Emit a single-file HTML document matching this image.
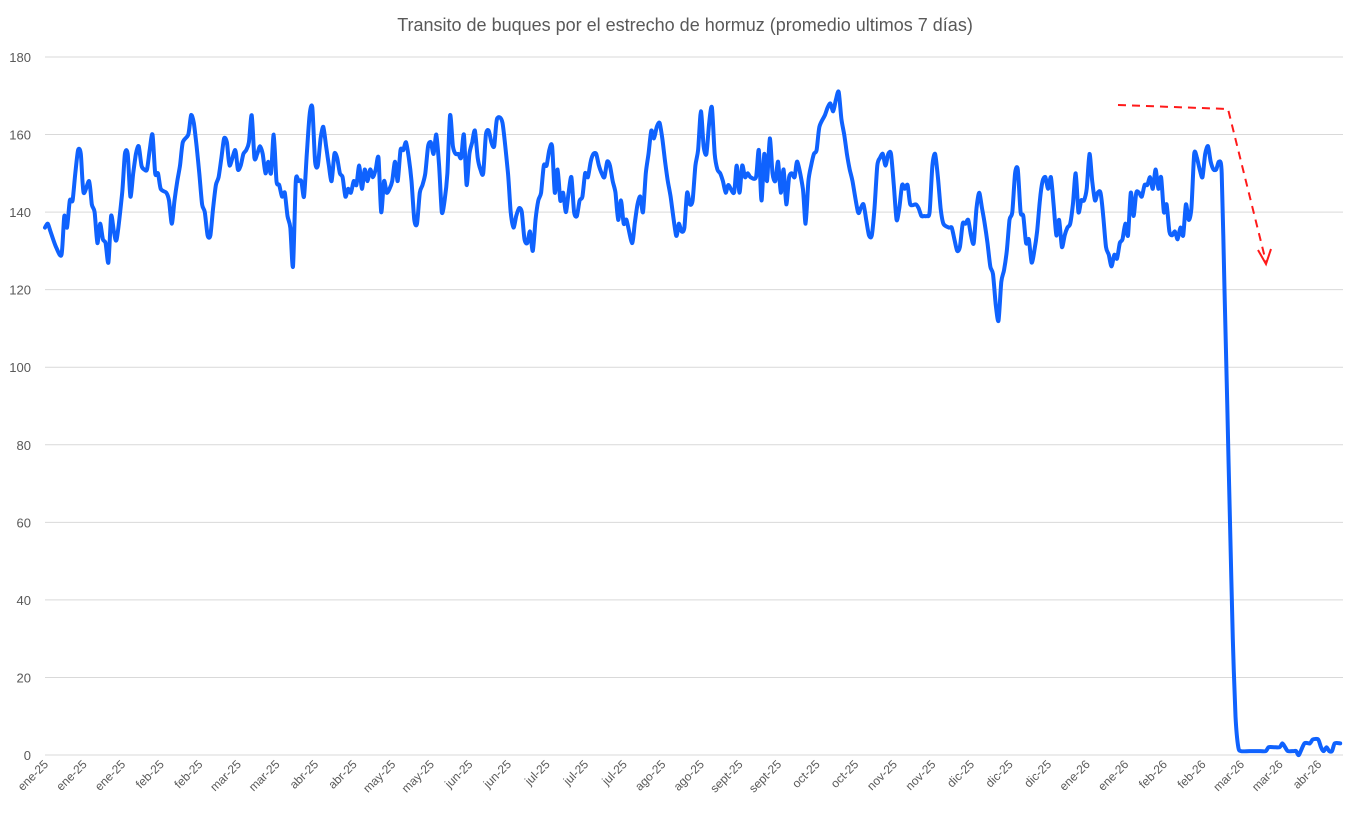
<!DOCTYPE html>
<html><head><meta charset="utf-8"><style>
html,body{margin:0;padding:0;background:#fff;}
svg{display:block;font-family:"Liberation Sans",sans-serif;}
</style></head><body>
<svg id="chart" width="1371" height="815" viewBox="0 0 1371 815">
<text x="685" y="31" text-anchor="middle" font-size="18" fill="#595959">Transito de buques por el estrecho de hormuz (promedio ultimos 7 días)</text>
<g id="grid"></g><g id="yticks"></g><g id="xticks"></g><g id="series"></g>
<g>
<polyline points="1118,105 1228,109 1266,262" fill="none" stroke="#ff1a1a" stroke-width="2" stroke-dasharray="8,6"/>
<polyline points="1258,250 1266,264 1271,249" fill="none" stroke="#ff1a1a" stroke-width="2"/>
</g>
</svg>
<script>
const yTicks=[0,20,40,60,80,100,120,140,160,180];
const xLabels=["ene-25","ene-25","ene-25","feb-25","feb-25","mar-25","mar-25","abr-25","abr-25","may-25","may-25","jun-25","jun-25","jul-25","jul-25","jul-25","ago-25","ago-25","sept-25","sept-25","oct-25","oct-25","nov-25","nov-25","dic-25","dic-25","dic-25","ene-26","ene-26","feb-26","feb-26","mar-26","mar-26","abr-26"];
const labelStepDays=14;
const days=[0,1,2,4,6,7,8,9,10,11,12,13,14,16,17,18,19,20,21,22,23,24,25,26,28,29,30,31,32,33,34,35,36,37,38,39,40,41,42,44,45,46,47,48,49,50,52,53,54,55,56,57,58,59,60,61,62,63,64,65,66,67,69,70,71,72,73,74,75,76,77,78,79,80,81,82,83,84,85,86,87,88,89,90,91,92,93,94,95,96,97,98,99,100,101,102,103,104,105,106,107,108,109,110,111,112,113,114,115,116,117,118,119,120,121,122,123,124,125,126,127,128,129,130,131,132,133,134,135,136,137,138,139,140,141,142,143,144,145,146,147,148,149,150,151,152,153,154,155,156,157,158,159,160,161,162,163,164,166,168,169,170,171,172,173,174,175,176,177,178,179,180,181,182,183,184,185,186,187,188,189,190,191,192,193,194,195,196,197,198,199,200,201,202,203,204,205,206,207,208,209,210,211,213,214,215,216,217,218,219,220,221,222,223,224,225,226,227,229,230,231,232,233,234,235,236,237,238,239,240,241,242,243,244,245,246,247,248,250,251,252,253,254,255,256,258,259,260,261,262,263,264,265,266,267,268,269,270,271,272,273,275,276,277,278,279,280,281,283,284,285,286,287,288,289,290,291,292,293,295,296,297,298,299,300,301,302,303,304,305,306,307,308,309,310,311,312,313,314,316,317,318,319,320,321,322,323,324,325,326,328,329,330,331,332,333,334,335,336,337,338,339,340,341,342,343,344,345,346,347,348,349,350,351,352,353,354,355,356,357,358,359,360,361,362,363,364,365,366,367,368,369,370,371,372,373,374,375,376,377,378,379,380,381,382,383,384,385,386,387,388,389,390,391,392,393,394,395,396,397,398,399,400,401,402,403,404,405,406,407,408,409,410,411,412,413,414,415,416,417,418,419,420,421,422,423,424,425,426,427,428,429,430,431,432,433,434,437,441,443,444,446,448,449,450,451,453,454,455,457,459,460,462,463,464,465,466,467,468,470];
const ships=[136,137,135,131,129,139,136,143,143,150,156,155,145,148,142,140,132,137,133,132,127,139,135,133,145,155,155,144,150,155,157,152,151,151,156,160,150,150,146,145,143,137,143,148,152,158,160,165,163,157,150,142,140,134,134,141,147,149,154,159,158,152,156,151,152,155,156,158,165,154,155,157,155,150,153,150,160,148,147,144,145,139,136,126,148,148,148,144,155,165,167,153,152,159,162,157,152,148,155,154,150,149,144,146,145,148,147,152,146,151,148,151,149,151,154,140,148,145,146,148,153,148,156,156,158,154,148,138,137,145,147,150,157,158,155,160,152,140,143,150,165,157,155,155,154,160,147,155,158,161,154,151,150,160,161,158,157,164,163,150,140,136,139,141,140,133,132,135,130,138,143,145,152,152,156,157,145,151,143,145,140,145,149,140,139,143,144,150,149,153,155,155,152,150,149,153,152,148,145,138,143,137,138,132,137,142,144,140,150,155,161,159,162,163,159,153,148,144,134,137,135,136,145,142,143,152,156,166,157,155,163,167,155,151,150,148,145,147,145,152,145,152,149,150,149,149,156,143,155,148,159,150,148,153,145,151,142,149,150,149,153,146,137,148,152,155,156,162,165,167,168,166,169,171,164,160,155,151,148,140,141,142,138,134,134,141,152,154,155,152,155,155,147,138,141,147,146,147,142,142,141,139,139,139,140,152,155,149,141,137,136,136,133,130,131,137,137,138,134,132,141,145,141,137,132,126,124,116,112,122,125,130,138,140,150,151,140,139,132,133,127,130,135,143,148,149,146,149,142,134,138,131,134,136,137,142,150,140,143,143,146,155,148,143,145,145,139,131,129,126,129,128,132,133,137,134,145,139,145,145,144,147,147,149,146,151,146,149,140,142,135,134,135,133,136,134,142,138,141,155,154,151,149,155,157,153,151,151,153,150,120,90,60,30,10,2,1,1,1,1,2,2,2,3,2,1,1,1,0,3,3,4,4,2,1,2,1,1,3,3];

const X0=45,X1=1343,DMAX=471,Y0=755,Y1=57,VMAX=180;
const xS=d=>X0+d*(X1-X0)/DMAX;
const yS=v=>Y0-v*(Y0-Y1)/VMAX;
const NS="http://www.w3.org/2000/svg";
const grid=document.getElementById('grid'),yt=document.getElementById('yticks'),xt=document.getElementById('xticks'),ser=document.getElementById('series');
yTicks.forEach(v=>{
  const l=document.createElementNS(NS,'line');
  l.setAttribute('x1',X0);l.setAttribute('x2',X1);l.setAttribute('y1',yS(v));l.setAttribute('y2',yS(v));
  l.setAttribute('stroke','#d9d9d9');l.setAttribute('stroke-width','1');
  
  
  grid.appendChild(l);
  const t=document.createElementNS(NS,'text');
  t.setAttribute('x',31);t.setAttribute('y',yS(v)+5);t.setAttribute('text-anchor','end');
  t.setAttribute('font-size','13');t.setAttribute('fill','#595959');t.textContent=v;
  
  
  yt.appendChild(t);
});
xLabels.forEach((s,i)=>{
  const x=xS(i*labelStepDays)+4,y=765;
  const t=document.createElementNS(NS,'text');
  t.setAttribute('x',x);t.setAttribute('y',y);t.setAttribute('text-anchor','end');
  t.setAttribute('font-size','12');t.setAttribute('fill','#595959');
  t.setAttribute('transform','rotate(-45 '+x+' '+y+')');t.textContent=s;
  
  
  xt.appendChild(t);
});
const pts=days.map((d,i)=>[xS(d),yS(ships[i])]);
let dstr='M'+pts[0][0].toFixed(1)+','+pts[0][1].toFixed(1);
for(let i=0;i<pts.length-1;i++){
  const p0=pts[Math.max(0,i-1)],p1=pts[i],p2=pts[i+1],p3=pts[Math.min(pts.length-1,i+2)];
  const k=8;
  const c1=[p1[0]+(p2[0]-p0[0])/k,p1[1]+(p2[1]-p0[1])/k];
  const c2=[p2[0]-(p3[0]-p1[0])/k,p2[1]-(p3[1]-p1[1])/k];
  dstr+=' C'+c1[0].toFixed(1)+','+c1[1].toFixed(1)+' '+c2[0].toFixed(1)+','+c2[1].toFixed(1)+' '+p2[0].toFixed(1)+','+p2[1].toFixed(1);
}
const path=document.createElementNS(NS,'path');
path.setAttribute('d',dstr);path.setAttribute('fill','none');path.setAttribute('stroke','#0f62fe');
path.setAttribute('stroke-width','4');path.setAttribute('stroke-linejoin','round');path.setAttribute('stroke-linecap','round');


ser.appendChild(path);
</script>
</body></html>
